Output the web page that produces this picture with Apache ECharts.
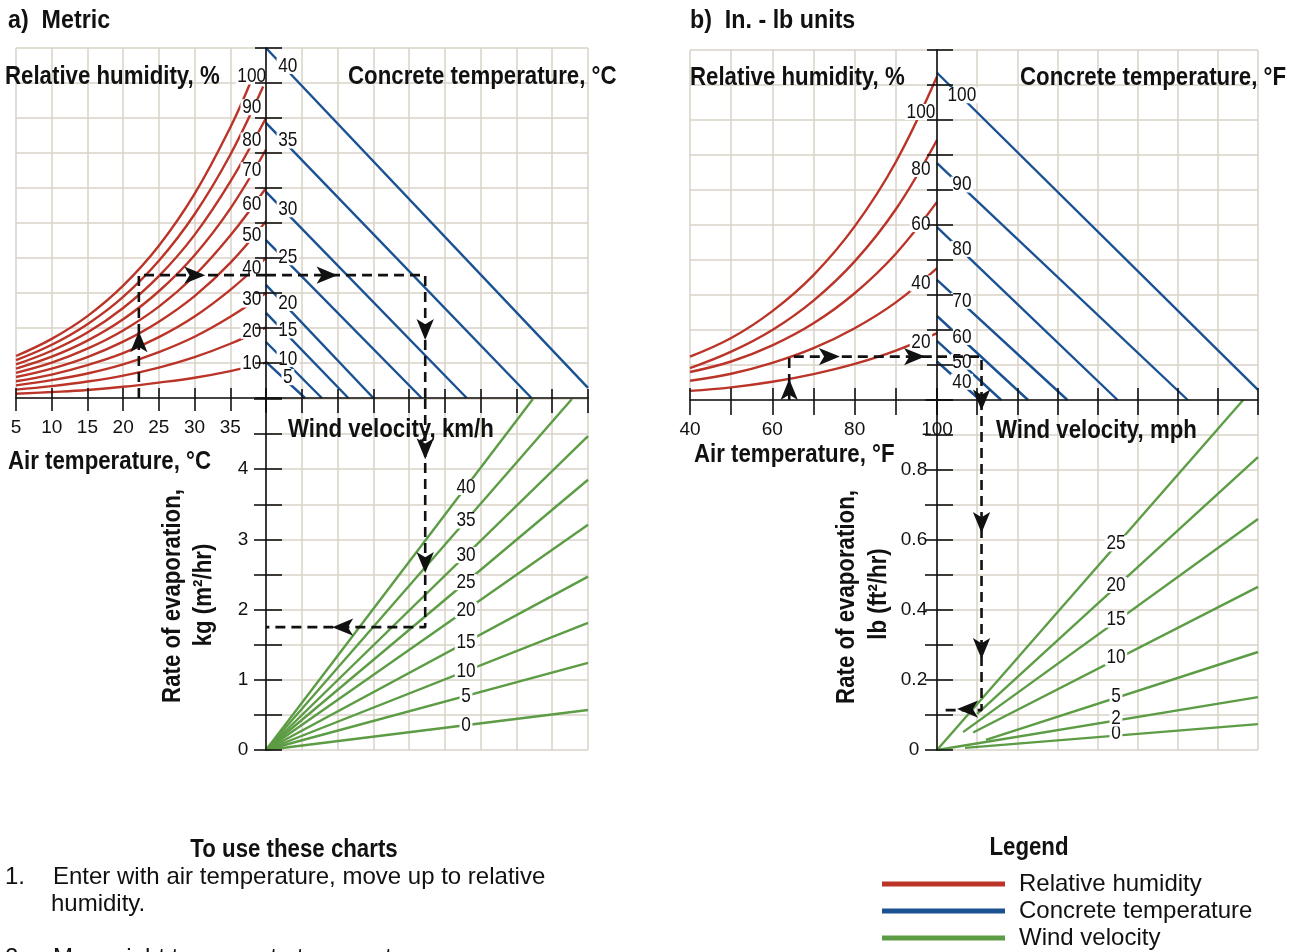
<!DOCTYPE html>
<html>
<head>
<meta charset="utf-8">
<script src="https://cdn.jsdelivr.net/npm/echarts@6/dist/echarts.min.js"></script>
<style>
html,body{margin:0;padding:0;background:#fff;}
#chart{width:1302px;height:952px;}
</style>
</head>
<body>
<div id="chart"></div>
<script>
// ======================= DATA =======================
// ---- (a) Metric ----
const metricAirTemps = [5, 10, 15, 20, 25, 30, 35, 40];                 // °C (air temperature axis)
const metricRH = [10, 20, 30, 40, 50, 60, 70, 80, 90, 100];             // relative humidity, %
const metricRHLastTemp = [40, 40, 40, 40, 40, 40, 40, 40, 39.6, 38];    // where each curve stops
const metricRHValues = [                                                 // vapour-pressure scale (grid units)
  [0.12, 0.17, 0.23, 0.32, 0.44, 0.58, 0.77, 1.01],
  [0.24, 0.34, 0.47, 0.64, 0.87, 1.17, 1.55, 2.02],
  [0.36, 0.51, 0.70, 0.96, 1.31, 1.75, 2.32, 3.00],
  [0.48, 0.67, 0.94, 1.28, 1.74, 2.33, 3.09, 4.00],
  [0.60, 0.84, 1.17, 1.61, 2.18, 2.91, 3.86, 5.05],
  [0.72, 1.01, 1.41, 1.93, 2.61, 3.50, 4.64, 6.00],
  [0.84, 1.18, 1.64, 2.25, 3.05, 4.08, 5.41, 7.10],
  [0.96, 1.35, 1.87, 2.57, 3.48, 4.66, 6.18, 8.00],
  [1.08, 1.52, 2.11, 2.89, 3.92, 5.25, 6.95, 8.90],
  [1.20, 1.69, 2.34, 3.21, 4.35, 5.83, 7.73, 9.10]
];
const metricConcreteTemps = [5, 10, 15, 20, 25, 30, 35, 40];             // °C
const metricConcreteStartY = [1.03, 1.60, 2.43, 3.23, 4.51, 5.89, 7.86, 10.0];
const metricConcreteEndX = [1.09, 1.56, 2.30, 3.00, 4.35, 5.61, 7.42, 9.0];
const metricConcreteEndY = [0, 0, 0, 0, 0, 0, 0, 0.29];
const metricWind = [0, 5, 10, 15, 20, 25, 30, 35, 40];                   // km/h
const metricWindEndX = [9, 9, 9, 9, 9, 9, 9, 8.55, 7.46];
const metricWindEndRate = [0.57, 1.24, 1.81, 2.47, 3.21, 3.85, 4.47, 5.0, 5.0]; // kg/(m²·hr)
const metricPathTL = [[22.2, 0], [22.2, 3.51], [40, 3.51]];
const metricPathTR = [[0, 3.51], [4.45, 3.51], [4.45, 0]];
const metricPathBR = [[4.45, 5], [4.45, 1.75], [0, 1.75]];
const metricArrowsTL = [[22.2, 1.91, 'up'], [31.5, 3.51, 'right']];
const metricArrowsTR = [[2.0, 3.51, 'right'], [4.45, 1.66, 'down']];
const metricArrowsBR = [[4.45, 4.14, 'down'], [4.45, 2.52, 'down'], [1.85, 1.75, 'left']];

// ---- (b) In.-lb units ----
const imperialAirTemps = [40, 50, 60, 70, 80, 90, 100];                 // °F
const imperialRH = [20, 40, 60, 80, 100];
const imperialRHValues = [
  [0.26, 0.36, 0.52, 0.74, 1.03, 1.41, 1.91],
  [0.55, 0.75, 1.06, 1.48, 2.05, 2.79, 3.77],
  [0.80, 1.10, 1.56, 2.19, 3.05, 4.18, 5.66],
  [0.91, 1.38, 2.00, 2.84, 3.96, 5.45, 7.43],
  [1.24, 1.77, 2.54, 3.57, 4.96, 6.80, 9.24]
];
const imperialConcreteTemps = [40, 50, 60, 70, 80, 90, 100];            // °F
const imperialConcreteStartY = [1.10, 1.69, 2.40, 3.43, 4.94, 6.77, 9.35];
const imperialConcreteEndX = [1.07, 1.60, 2.27, 3.25, 4.50, 6.25, 8.0];
const imperialConcreteEndY = [0, 0, 0, 0, 0, 0, 0.29];
const imperialWind = [0, 2, 5, 10, 15, 20, 25];                          // mph
const imperialWindStartX = [0.70, 0, 1.22, 0.90, 0.65, 1.00, 0];
const imperialWindStartRate = [0.006, 0, 0.029, 0.050, 0.051, 0.103, 0];
const imperialWindEndX = [8, 8, 8, 8, 8, 8, 7.63];
const imperialWindEndRate = [0.074, 0.151, 0.28, 0.466, 0.66, 0.837, 1.0]; // lb/(ft²·hr)
const imperialPathTL = [[64.1, 0], [64.1, 1.24], [100, 1.24]];
const imperialPathTR = [[0, 1.24], [1.11, 1.24], [1.11, 0]];
const imperialPathBR = [[1.11, 1.0], [1.11, 0.114], [0.15, 0.114]];
const imperialArrowsTL = [[64.1, 0.6, 'up'], [76.4, 1.24, 'right'], [97.1, 1.24, 'right']];
const imperialArrowsBR = [[1.11, 0.97, 'down'], [1.11, 0.62, 'down'], [1.11, 0.26, 'down'], [0.5, 0.117, 'left']];

const legendNames = ['Relative humidity', 'Concrete temperature', 'Wind velocity'];

// ======================= STYLE =======================
const FR = "'Liberation Sans',Arial,sans-serif";
const RED = '#bb3428', BLUE = '#1a5192', GREEN = '#5c9c44', GRIDC = '#d9d2c7', INK = '#111111';

const grid = [], xAxis = [], yAxis = [], series = [];
function addGrid(left, top, width, height) { grid.push({ left, top, width, height }); return grid.length - 1; }
function splitAxis(arr, pos, g, min, max, interval) {
  arr.push({ type: 'value', gridIndex: g, min, max, interval, position: pos, z: 0,
    axisLine: { show: false }, axisTick: { show: false }, axisLabel: { show: false },
    splitLine: { show: true, lineStyle: { color: GRIDC, width: 1.5 } } });
  return arr.length - 1;
}
function tickAxis(arr, pos, g, min, max, interval, inside, len, line, label) {
  arr.push({ type: 'value', gridIndex: g, min, max, interval, position: pos, z: 4,
    axisLine: { show: line, onZero: false, lineStyle: { color: INK, width: 1.6 } },
    axisTick: { show: true, inside, length: len, lineStyle: { color: INK, width: 1.6 } },
    axisLabel: label ? Object.assign({ show: true, color: INK, fontFamily: FR, fontSize: 19 }, label) : { show: false },
    splitLine: { show: false } });
}
function lineSeries(name, color, xi, yi, data, extra) {
  return Object.assign({ type: 'line', name, xAxisIndex: xi, yAxisIndex: yi, data, symbol: 'none',
    silent: true, z: 2, lineStyle: { color, width: 2.4 }, itemStyle: { color } }, extra || {});
}
function dashSeries(xi, yi, data) {
  return { type: 'line', xAxisIndex: xi, yAxisIndex: yi, data, symbol: 'none', silent: true, z: 5,
    lineStyle: { color: INK, width: 2.6, type: [10, 6] } };
}
const ROT = { up: 0, down: 180, left: 90, right: -90 };
function arrowSeries(xi, yi, data) {
  return { type: 'scatter', xAxisIndex: xi, yAxisIndex: yi, data, symbol: 'arrow', symbolSize: [13, 21],
    symbolRotate: v => ROT[v[2]], clip: false, silent: true, z: 6, itemStyle: { color: INK, opacity: 1 } };
}
function yAt(pts, x) {
  for (let i = 0; i < pts.length - 1; i++) {
    const [x0, y0] = pts[i], [x1, y1] = pts[i + 1];
    if ((x - x0) * (x - x1) <= 0) return y0 + (y1 - y0) * (x - x0) / (x1 - x0);
  }
  return pts[pts.length - 1][1];
}
const intLabel = (v, maxv) => (Math.abs(v - Math.round(v)) < 1e-6 && v < maxv - 0.01) ? String(Math.round(v)) : '';
const lineLabelSets = []; // [xAxisIndex, yAxisIndex, [[x, y, text]], dy]

// ======================= (a) METRIC PANEL =======================
const gA1 = addGrid(16, 48, 250, 350), gA2 = addGrid(266, 48, 322, 350), gA3 = addGrid(266, 399, 322, 351);
const xA1 = splitAxis(xAxis, 'bottom', gA1, 5, 40, 5), yA1 = splitAxis(yAxis, 'left', gA1, 0, 10, 1);
tickAxis(xAxis, 'bottom', gA1, 5, 40, 5, false, 13, true, { margin: 20, formatter: v => v === 40 ? '' : String(v) });
tickAxis(xAxis, 'bottom', gA1, 5, 40, 5, true, 10, false);
const xA2 = splitAxis(xAxis, 'bottom', gA2, 0, 9, 1), yA2 = splitAxis(yAxis, 'left', gA2, 0, 10, 1);
tickAxis(xAxis, 'bottom', gA2, 0, 9, 1, false, 15, true);
tickAxis(xAxis, 'bottom', gA2, 0, 9, 1, true, 9, false);
tickAxis(yAxis, 'left', gA2, 0, 10, 1, false, 11, true);
tickAxis(yAxis, 'left', gA2, 0, 10, 1, true, 16, false);
const xA3 = splitAxis(xAxis, 'bottom', gA3, 0, 9, 1), yA3 = splitAxis(yAxis, 'left', gA3, 0, 5, 0.5);
tickAxis(yAxis, 'left', gA3, 0, 5, 0.5, false, 12, true, { align: 'center', margin: 23, formatter: v => intLabel(v, 5) });
tickAxis(yAxis, 'left', gA3, 0, 5, 0.5, true, 16, false);

const mRhLab = [], mCtLab = [], mWvLab = [];
metricRH.forEach((rh, i) => {
  const pts = metricAirTemps.map((t, j) => [j === metricAirTemps.length - 1 ? metricRHLastTemp[i] : t, metricRHValues[i][j]]);
  series.push(lineSeries(legendNames[0], RED, xA1, yA1, pts, { smooth: 0.4 }));
  mRhLab.push([38.0, yAt(pts, 38.0), String(rh)]);
});
metricConcreteTemps.forEach((t, i) => {
  const pts = [[0, metricConcreteStartY[i]], [metricConcreteEndX[i], metricConcreteEndY[i]]];
  series.push(lineSeries(legendNames[1], BLUE, xA2, yA2, pts));
  mCtLab.push([0.61, yAt(pts, 0.61), String(t)]);
});
metricWind.forEach((w, i) => {
  const pts = [[0, 0], [metricWindEndX[i], metricWindEndRate[i]]];
  series.push(lineSeries(legendNames[2], GREEN, xA3, yA3, pts));
  mWvLab.push([5.59, yAt(pts, 5.59), String(w)]);
});
lineLabelSets.push([xA1, yA1, mRhLab, -3], [xA2, yA2, mCtLab, -5], [xA3, yA3, mWvLab, 0]);
series.push(dashSeries(xA1, yA1, metricPathTL), dashSeries(xA2, yA2, metricPathTR), dashSeries(xA3, yA3, metricPathBR));
series.push(arrowSeries(xA1, yA1, metricArrowsTL), arrowSeries(xA2, yA2, metricArrowsTR), arrowSeries(xA3, yA3, metricArrowsBR));

// ======================= (b) IN.-LB PANEL =======================
const gB1 = addGrid(690, 50, 247, 350), gB2 = addGrid(937, 50, 321, 350), gB3 = addGrid(937, 400, 321, 350);
const xB1 = splitAxis(xAxis, 'bottom', gB1, 40, 100, 10), yB1 = splitAxis(yAxis, 'left', gB1, 0, 10, 1);
tickAxis(xAxis, 'bottom', gB1, 40, 100, 10, false, 15, true, { margin: 20, formatter: v => (Math.round(v) % 20 === 0 ? String(v) : '') });
tickAxis(xAxis, 'bottom', gB1, 40, 100, 10, true, 12, false);
const xB2 = splitAxis(xAxis, 'bottom', gB2, 0, 8, 1), yB2 = splitAxis(yAxis, 'left', gB2, 0, 10, 1);
tickAxis(xAxis, 'bottom', gB2, 0, 8, 1, false, 15, true);
tickAxis(xAxis, 'bottom', gB2, 0, 8, 1, true, 12, false);
tickAxis(yAxis, 'left', gB2, 0, 10, 1, false, 10, true);
tickAxis(yAxis, 'left', gB2, 0, 10, 1, true, 16, false);
const xB3 = splitAxis(xAxis, 'bottom', gB3, 0, 8, 1), yB3 = splitAxis(yAxis, 'left', gB3, 0, 1, 0.1);
tickAxis(yAxis, 'left', gB3, 0, 1, 0.1, false, 12, true, { align: 'center', margin: 23,
  formatter: v => { const k = Math.round(v * 10); return (k % 2 === 0 && k < 10) ? (k === 0 ? '0' : (k / 10).toFixed(1)) : ''; } });
tickAxis(yAxis, 'left', gB3, 0, 1, 0.1, true, 16, false);

const iRhLab = [], iCtLab = [], iWvLab = [];
imperialRH.forEach((rh, i) => {
  const pts = imperialAirTemps.map((t, j) => [t, imperialRHValues[i][j]]);
  series.push(lineSeries(legendNames[0], RED, xB1, yB1, pts, { smooth: 0.4 }));
  iRhLab.push([96.1, yAt(pts, 96.1), String(rh)]);
});
imperialConcreteTemps.forEach((t, i) => {
  const pts = [[0, imperialConcreteStartY[i]], [imperialConcreteEndX[i], imperialConcreteEndY[i]]];
  series.push(lineSeries(legendNames[1], BLUE, xB2, yB2, pts));
  iCtLab.push([0.62, yAt(pts, 0.62), String(t)]);
});
imperialWind.forEach((w, i) => {
  const pts = [[imperialWindStartX[i], imperialWindStartRate[i]], [imperialWindEndX[i], imperialWindEndRate[i]]];
  series.push(lineSeries(legendNames[2], GREEN, xB3, yB3, pts));
  iWvLab.push([4.46, yAt(pts, 4.46), String(w)]);
});
lineLabelSets.push([xB1, yB1, iRhLab, 2], [xB2, yB2, iCtLab, -2], [xB3, yB3, iWvLab, -2]);
series.push(dashSeries(xB1, yB1, imperialPathTL), dashSeries(xB2, yB2, imperialPathTR), dashSeries(xB3, yB3, imperialPathBR));
series.push(arrowSeries(xB1, yB1, imperialArrowsTL), arrowSeries(xB3, yB3, imperialArrowsBR));

// ======================= TEXT =======================
// condensed look: Liberation Sans scaled horizontally
function txt(text, x, y, size, bold, sx, align, extra) {
  return Object.assign({ type: 'text', x, y, scaleX: sx, silent: true, z: 10,
    style: { text, fill: INK, fontFamily: FR, fontSize: size, fontWeight: bold ? 'bold' : 'normal',
      align: align || 'left', verticalAlign: 'middle' } }, extra || {});
}
const H = (text, x, y) => txt(text, x, y, 25, true, 0.89);          // bold heading
const V = (text, x, y) => txt(text, x, y, 25, true, 0.89, 'center', { rotation: Math.PI / 2 });
const graphics = [
  txt('a)  Metric', 8, 21, 25, true, 0.93),
  H('Relative humidity, %', 5, 77),
  H('Concrete temperature, °C', 348, 77),
  H('Air temperature, °C', 8, 462),
  H('Wind velocity, km/h', 288, 430),
  V('Rate of evaporation,', 173, 596),
  V('kg (m²/hr)', 204, 595),
  txt('b)  In. - lb units', 690, 21, 25, true, 0.93),
  H('Relative humidity, %', 690, 78),
  H('Concrete temperature, °F', 1020, 78),
  H('Air temperature, °F', 694, 455),
  H('Wind velocity, mph', 996, 431),
  V('Rate of evaporation,', 847, 597),
  V('lb (ft²/hr)', 879, 594),
  txt('To use these charts', 294, 850, 25, true, 0.89, 'center'),
  txt('1.', 5, 877, 24, false, 1),
  txt('Enter with air temperature, move up to relative', 53, 877, 24, false, 1),
  txt('humidity.', 51, 904, 24, false, 1),
  txt('2.', 5, 958, 24, false, 1),
  txt('Move right to concrete temperature', 53, 958, 24, false, 1),
  txt('Legend', 1029, 848, 25, true, 0.89, 'center')
];

const chart = echarts.init(document.getElementById('chart'), null, { renderer: 'canvas' });
chart.setOption({
  animation: false,
  backgroundColor: '#fff',
  textStyle: { fontFamily: FR },
  grid, xAxis, yAxis, series,
  legend: {
    data: legendNames, orient: 'vertical', left: 882, top: 872, padding: 0, itemWidth: 123, itemHeight: 5, itemGap: 3,
    icon: 'rect', selectedMode: false,
    textStyle: { fontFamily: FR, fontSize: 24, lineHeight: 24, color: INK, padding: [0, 0, 0, 9] }
  }
});

// curve/line value labels: placed on the lines through the chart's own scales
lineLabelSets.forEach(([xi, yi, list, dy]) => {
  list.forEach(([x, y, s]) => {
    const p = chart.convertToPixel({ xAxisIndex: xi, yAxisIndex: yi }, [x, y]);
    graphics.push({ type: 'text', x: p[0], y: p[1] + dy, scaleX: 0.82, z: 3, silent: true,
      style: { text: s, fill: INK, fontFamily: FR, fontSize: 21, lineHeight: 16, align: 'center', verticalAlign: 'middle',
        backgroundColor: '#fff', padding: [0, 2, 0, 2] } });
  });
});
chart.setOption({ graphic: { elements: graphics } });
</script>
</body>
</html>
